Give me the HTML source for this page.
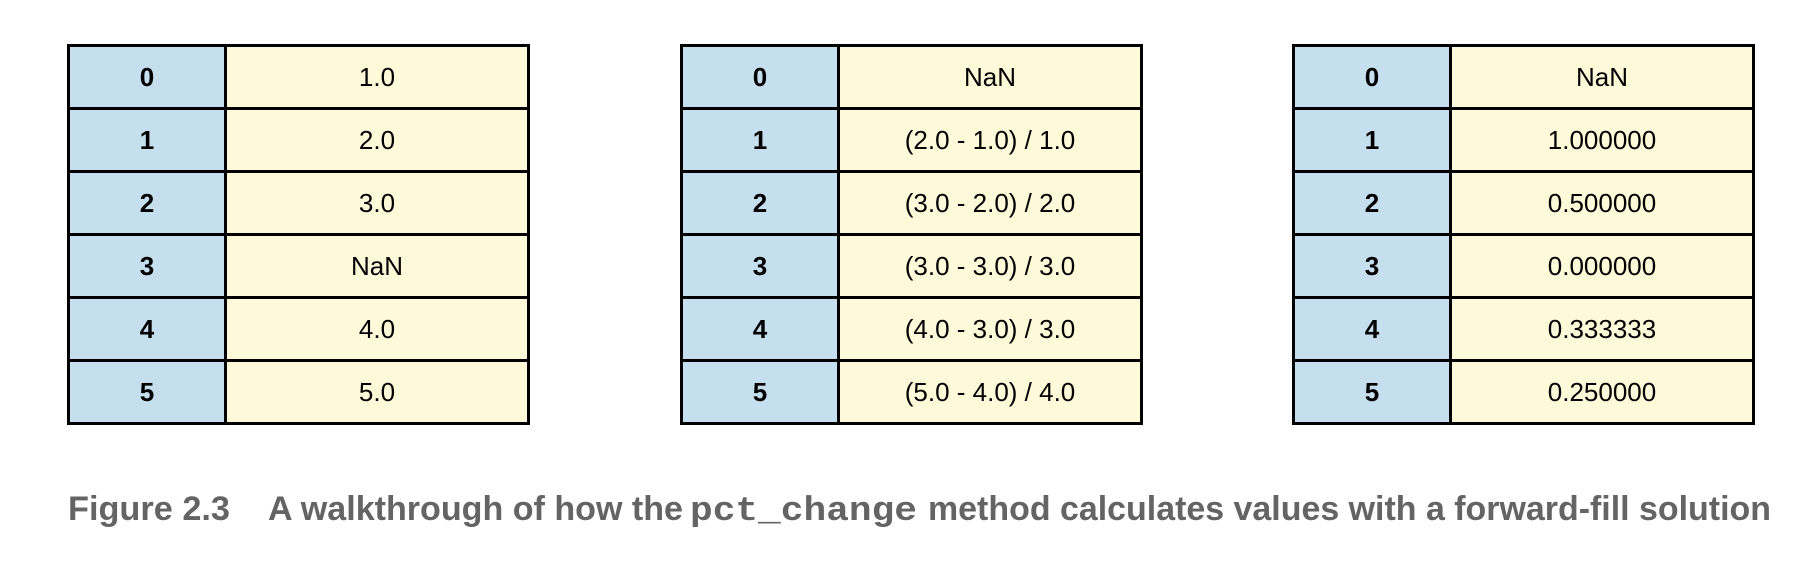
<!DOCTYPE html>
<html><head><meta charset="utf-8">
<style>
html,body{margin:0;padding:0;background:#fff;}
body{width:1806px;height:575px;position:relative;overflow:hidden;font-family:"Liberation Sans",sans-serif;}
.tbl{position:absolute;top:44px;height:381px;box-sizing:border-box;border:3px solid #000;background:#000;display:grid;grid-template-rows:repeat(6,1fr);row-gap:3px;}
.row{display:grid;column-gap:3px;}
.idx{background:#c6dfee;font-weight:bold;font-size:26px;display:flex;align-items:center;justify-content:center;}
.val{background:#fef9d9;font-size:26px;display:flex;align-items:center;justify-content:center;}
#cap{position:absolute;left:0;top:0;}
</style></head>
<body>
<div class="tbl" style="left:67px;width:463px;">
  <div class="row" style="grid-template-columns:154px 1fr;"><div class="idx">0</div><div class="val">1.0</div></div>
  <div class="row" style="grid-template-columns:154px 1fr;"><div class="idx">1</div><div class="val">2.0</div></div>
  <div class="row" style="grid-template-columns:154px 1fr;"><div class="idx">2</div><div class="val">3.0</div></div>
  <div class="row" style="grid-template-columns:154px 1fr;"><div class="idx">3</div><div class="val">NaN</div></div>
  <div class="row" style="grid-template-columns:154px 1fr;"><div class="idx">4</div><div class="val">4.0</div></div>
  <div class="row" style="grid-template-columns:154px 1fr;"><div class="idx">5</div><div class="val">5.0</div></div>
</div>
<div class="tbl" style="left:680px;width:463px;">
  <div class="row" style="grid-template-columns:154px 1fr;"><div class="idx">0</div><div class="val">NaN</div></div>
  <div class="row" style="grid-template-columns:154px 1fr;"><div class="idx">1</div><div class="val">(2.0 - 1.0) / 1.0</div></div>
  <div class="row" style="grid-template-columns:154px 1fr;"><div class="idx">2</div><div class="val">(3.0 - 2.0) / 2.0</div></div>
  <div class="row" style="grid-template-columns:154px 1fr;"><div class="idx">3</div><div class="val">(3.0 - 3.0) / 3.0</div></div>
  <div class="row" style="grid-template-columns:154px 1fr;"><div class="idx">4</div><div class="val">(4.0 - 3.0) / 3.0</div></div>
  <div class="row" style="grid-template-columns:154px 1fr;"><div class="idx">5</div><div class="val">(5.0 - 4.0) / 4.0</div></div>
</div>
<div class="tbl" style="left:1292px;width:463px;">
  <div class="row" style="grid-template-columns:154px 1fr;"><div class="idx">0</div><div class="val">NaN</div></div>
  <div class="row" style="grid-template-columns:154px 1fr;"><div class="idx">1</div><div class="val">1.000000</div></div>
  <div class="row" style="grid-template-columns:154px 1fr;"><div class="idx">2</div><div class="val">0.500000</div></div>
  <div class="row" style="grid-template-columns:154px 1fr;"><div class="idx">3</div><div class="val">0.000000</div></div>
  <div class="row" style="grid-template-columns:154px 1fr;"><div class="idx">4</div><div class="val">0.333333</div></div>
  <div class="row" style="grid-template-columns:154px 1fr;"><div class="idx">5</div><div class="val">0.250000</div></div>
</div>
<svg id="cap" width="1806" height="575">
  <g fill="#646464" font-weight="bold" font-size="34">
    <text x="68" y="520" textLength="162" lengthAdjust="spacingAndGlyphs" font-family="Liberation Sans Narrow, Liberation Sans, sans-serif">Figure 2.3</text>
    <text x="268" y="520" textLength="415" lengthAdjust="spacingAndGlyphs" font-family="Liberation Sans Narrow, Liberation Sans, sans-serif">A walkthrough of how the</text>
    <text x="690" y="520" textLength="227" lengthAdjust="spacingAndGlyphs" font-family="Liberation Mono, monospace">pct_change</text>
    <text x="928" y="520" textLength="843" lengthAdjust="spacingAndGlyphs" font-family="Liberation Sans Narrow, Liberation Sans, sans-serif">method calculates values with a forward-fill solution</text>
  </g>
</svg>
</body></html>
